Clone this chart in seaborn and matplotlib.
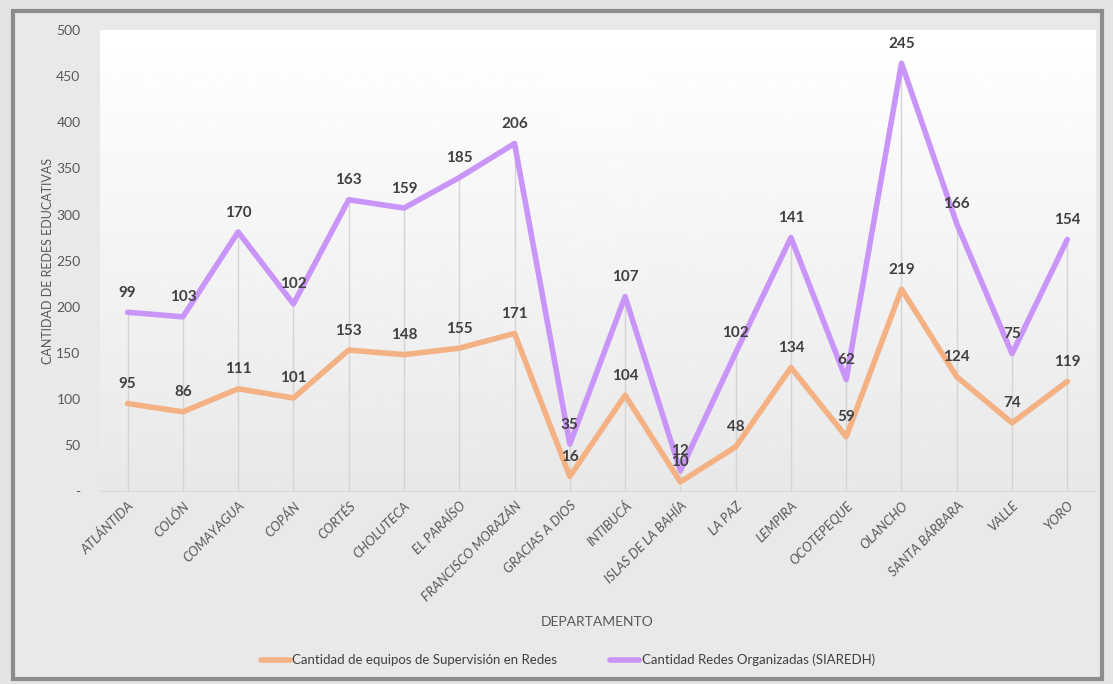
import numpy as np
import pandas as pd
import seaborn as sns
from matplotlib import pyplot as plt
from matplotlib.patches import Rectangle
from matplotlib.lines import Line2D

# data
departamentos = ['ATLÁNTIDA', 'COLÓN', 'COMAYAGUA', 'COPÁN', 'CORTÉS', 'CHOLUTECA',
                 'EL PARAÍSO', 'FRANCISCO MORAZÁN', 'GRACIAS A DIOS', 'INTIBUCÁ',
                 'ISLAS DE LA BAHÍA', 'LA PAZ', 'LEMPIRA', 'OCOTEPEQUE', 'OLANCHO',
                 'SANTA BÁRBARA', 'VALLE', 'YORO']
equipos = [95, 86, 111, 101, 153, 148, 155, 171, 16, 104, 10, 48, 134, 59, 219, 124, 74, 119]
redes = [99, 103, 170, 102, 163, 159, 185, 206, 35, 107, 12, 102, 141, 62, 245, 166, 75, 154]
y_ticks = [0, 50, 100, 150, 200, 250, 300, 350, 400, 450, 500]

name_eq = 'Cantidad de equipos de Supervisión en Redes'
name_red = 'Cantidad Redes Organizadas (SIAREDH)'
c_eq = '#F4B183'
c_red = '#C995F8'

# stacked line chart: second series sits on top of the first
df = pd.DataFrame({'pos': np.arange(len(departamentos)), 'dep': departamentos,
                   'eq': equipos, 'red': redes})
df['total'] = df['eq'] + df['red']

sns.set_style('white')
plt.rcParams['font.family'] = ['Lato', 'DejaVu Sans']

fig = plt.figure(figsize=(11.13, 6.84), dpi=100)
fig.patch.set_facecolor('#e4e4e4')
fig.patches.append(Rectangle((0.012, 0.008), 0.978, 0.976, transform=fig.transFigure,
                             facecolor='#e9e9e9', edgecolor='#8c8c8c', lw=3, zorder=-1))
ax = fig.add_axes([0.0898, 0.282, 0.894, 0.674])

# plot area gradient (white -> light grey)
grad = np.linspace(1.0, 0.91, 256).reshape(-1, 1)
ax.imshow(grad, extent=[0, 1, 0, 1], transform=ax.transAxes, cmap='gray',
          vmin=0, vmax=1, aspect='auto', zorder=0)

# drop lines up to the top series
ax.vlines(df['pos'], 0, df['total'], color='#d4d4d4', lw=1, zorder=1)

sns.lineplot(data=df, x='pos', y='eq', color=c_eq, lw=4, ax=ax, zorder=3)
sns.lineplot(data=df, x='pos', y='total', color=c_red, lw=4, ax=ax, zorder=3)

for _, r in df.iterrows():
    ax.annotate(str(r['eq']), (r['pos'], r['eq']), xytext=(0, 9), textcoords='offset points',
                ha='center', va='bottom', fontsize=11, fontweight='bold', color='#404040', zorder=5)
    ax.annotate(str(r['red']), (r['pos'], r['total']), xytext=(0, 9), textcoords='offset points',
                ha='center', va='bottom', fontsize=11, fontweight='bold', color='#404040', zorder=5)

ax.set_xlim(-0.5, len(departamentos) - 0.5)
ax.set_ylim(0, 500)
ax.set_yticks(y_ticks)
ax.set_yticklabels(['-'] + [str(v) for v in y_ticks[1:]], fontsize=10, color='#595959')
ax.set_xticks(df['pos'])
ax.set_xticklabels(departamentos, rotation=45, ha='right', rotation_mode='anchor',
                   fontsize=9.5, fontstyle='italic', color='#595959')
ax.tick_params(axis='both', length=0, pad=6)
ax.tick_params(axis='y', pad=14)

for s in ['top', 'right', 'left']:
    ax.spines[s].set_visible(False)
ax.spines['bottom'].set_color('#d9d9d9')

ax.set_xlabel('DEPARTAMENTO', fontsize=10, color='#595959')
ax.set_ylabel('CANTIDAD DE REDES EDUCATIVAS', fontsize=9, color='#595959')
ax.xaxis.set_label_coords(0.5, -0.27)
ax.yaxis.set_label_coords(-0.046, 0.5)

handles = [Line2D([], [], color=c_eq, lw=4), Line2D([], [], color=c_red, lw=4)]
fig.legend(handles, [name_eq, name_red], loc='center', bbox_to_anchor=(0.51, 0.035),
           ncol=2, frameon=False, fontsize=9.5, handlelength=2.2, handletextpad=0.2,
           columnspacing=4, labelcolor='#404040')

fig.savefig('out.png', dpi=100, facecolor=fig.get_facecolor())
